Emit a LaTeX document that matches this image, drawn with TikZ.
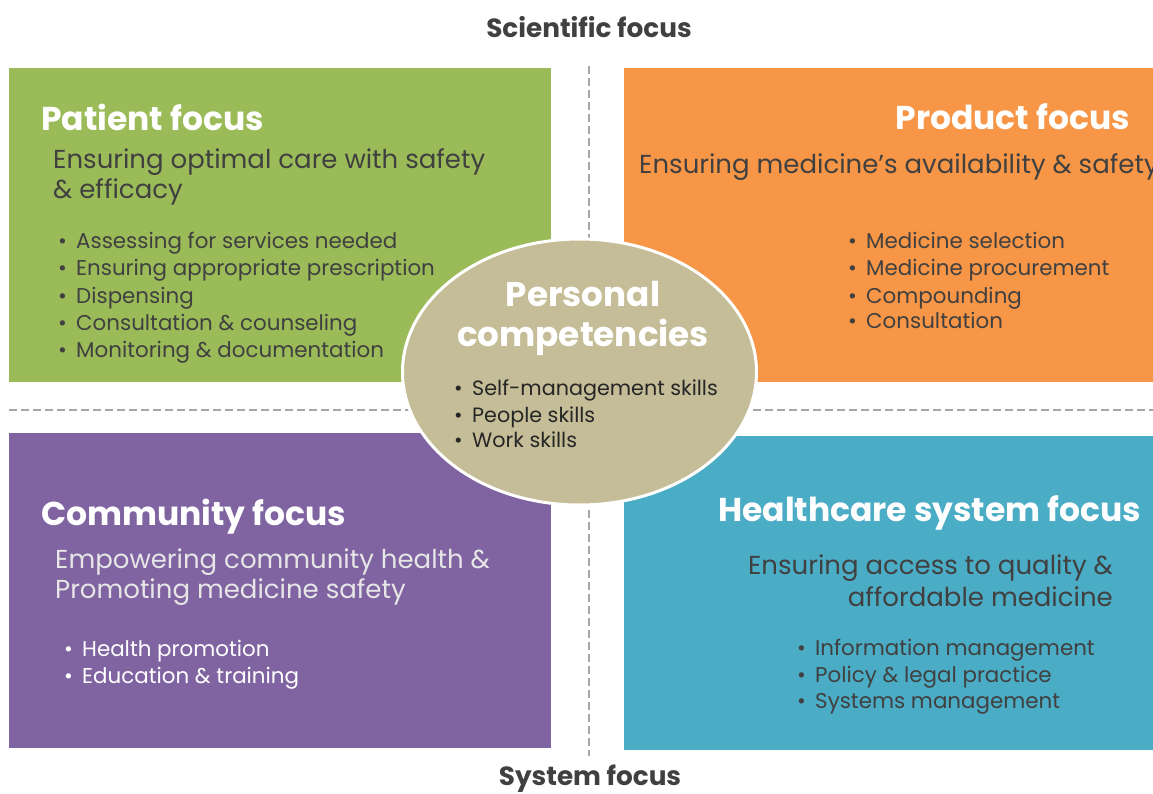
\documentclass[tikz,border=0pt]{standalone}
\usepackage{fontspec}
\setmainfont{Poppins}
\usetikzlibrary{shapes.geometric}
\definecolor{cgreen}{HTML}{9BBB59}
\definecolor{corange}{HTML}{F79646}
\definecolor{cpurple}{HTML}{8064A2}
\definecolor{cteal}{HTML}{4BACC6}
\definecolor{cellipse}{HTML}{C4BD97}
\definecolor{ctext}{HTML}{404040}
\definecolor{cdash}{HTML}{A6A6A6}
\definecolor{clight}{HTML}{E6E6E6}
\tikzset{
  quad/.style={anchor=north west, inner sep=0pt, outer sep=0pt},
  divider/.style={draw=cdash, line width=2.5pt, dash pattern=on 8pt off 4pt},
  axislabel/.style={font=\fontsize{26.3}{30}\selectfont\bfseries, text=ctext, inner sep=0pt},
  boxtitle/.style={font=\fontsize{33}{38}\selectfont\bfseries, text=white, inner sep=0pt, text height=0.72em, text depth=0.22em},
  subtitle/.style={font=\fontsize{26}{31}\selectfont, text=ctext, inner sep=0pt, text height=0.72em, text depth=0.22em},
  bul/.style={font=\fontsize{21.4}{25}\selectfont, text=ctext, inner sep=0pt, text height=0.72em, text depth=0.22em, anchor=west},
  pcbul/.style={font=\fontsize{20.7}{25}\selectfont, text=black!85, inner sep=0pt, text height=0.72em, text depth=0.22em, anchor=west},
  pctitle/.style={font=\fontsize{34.2}{40}\selectfont\bfseries, text=white, inner sep=0pt},
}
\newcommand{\bi}[1]{\makebox[18pt][l]{\textbullet}#1}
\begin{document}
\begin{tikzpicture}[x=1pt,y=-1pt]
\useasboundingbox (0,0) rectangle (1153,794);
% quadrants
\node[quad, fill=cgreen, minimum width=542pt, minimum height=314pt] (patient) at (9,68) {};
\node[quad, fill=corange, minimum width=545pt, minimum height=314pt] (product) at (624,68) {};
\node[quad, fill=cpurple, minimum width=542pt, minimum height=315pt] (community) at (9,433) {};
\node[quad, fill=cteal, minimum width=545pt, minimum height=314pt] (health) at (624,436) {};
% dividers
\coordinate (vtop) at (589,66);
\coordinate (vbot) at (589,756);
\coordinate (hleft) at (9,410);
\coordinate (hright) at (1160,410);
\draw[divider] (vtop) -- (vbot);
\draw[divider] (hleft) -- (hright);
% axis labels
\node[axislabel] (sci) at (589,27) {Scientific focus};
\node[axislabel] (sys) at (590,778.5) {System focus};
% patient
\node[boxtitle, anchor=west] (pt) at (41,128) {Patient focus};
\node[subtitle, anchor=west] (ps1) at (53,166.5) {Ensuring optimal care with safety};
\node[subtitle, anchor=west] (ps2) at (53,196.5) {\& efficacy};
\node[bul] (pb1) at (58,246.5) {\bi{Assessing for services needed}};
\node[bul] (pb2) at (58,273.5) {\bi{Ensuring appropriate prescription}};
\node[bul] (pb3) at (58,300.5) {\bi{Dispensing}};
\node[bul] (pb4) at (58,327.5) {\bi{Consultation \& counseling}};
\node[bul] (pb5) at (58,354.5) {\bi{Monitoring \& documentation}};
% product
\node[boxtitle, anchor=east] (prt) at (1130,127) {Product focus};
\node[subtitle, anchor=west] (prs) at (639,171.5) {Ensuring medicine’s availability \& safety};
\node[bul] (prb1) at (848,246.5) {\bi{Medicine selection}};
\node[bul] (prb2) at (848,273.5) {\bi{Medicine procurement}};
\node[bul] (prb3) at (848,300.5) {\bi{Compounding}};
\node[bul] (prb4) at (848,325.5) {\bi{Consultation}};
% community
\node[boxtitle, anchor=west] (ct) at (41,523) {Community focus};
\node[subtitle, anchor=west, text=clight] (cs1) at (55,565.5) {Empowering community health \&};
\node[subtitle, anchor=west, text=clight] (cs2) at (55,595.5) {Promoting medicine safety};
\node[bul, text=white] (cb1) at (64,653.5) {\bi{Health promotion}};
\node[bul, text=white] (cb2) at (64,680.5) {\bi{Education \& training}};
% healthcare system
\node[boxtitle, anchor=west] (ht) at (718,519) {Healthcare system focus};
\node[subtitle, anchor=east] (hs1) at (1113,571.5) {Ensuring access to quality \&};
\node[subtitle, anchor=east] (hs2) at (1113,603.5) {affordable medicine};
\node[bul] (hb1) at (797,652.5) {\bi{Information management}};
\node[bul] (hb2) at (797,679.5) {\bi{Policy \& legal practice}};
\node[bul] (hb3) at (797,705.5) {\bi{Systems management}};
% personal competencies
\node[ellipse, fill=cellipse, draw=white, line width=3pt, minimum width=354pt, minimum height=266pt, inner sep=0pt] (pc) at (579.5,372) {};
\node[pctitle] (pc1) at (583,294) {Personal};
\node[pctitle] (pc2) at (583,337) {competencies};
\node[pcbul] (pcb1) at (454,393) {\bi{Self-management skills}};
\node[pcbul] (pcb2) at (454,420) {\bi{People skills}};
\node[pcbul] (pcb3) at (454,445) {\bi{Work skills}};
\end{tikzpicture}
\end{document}
